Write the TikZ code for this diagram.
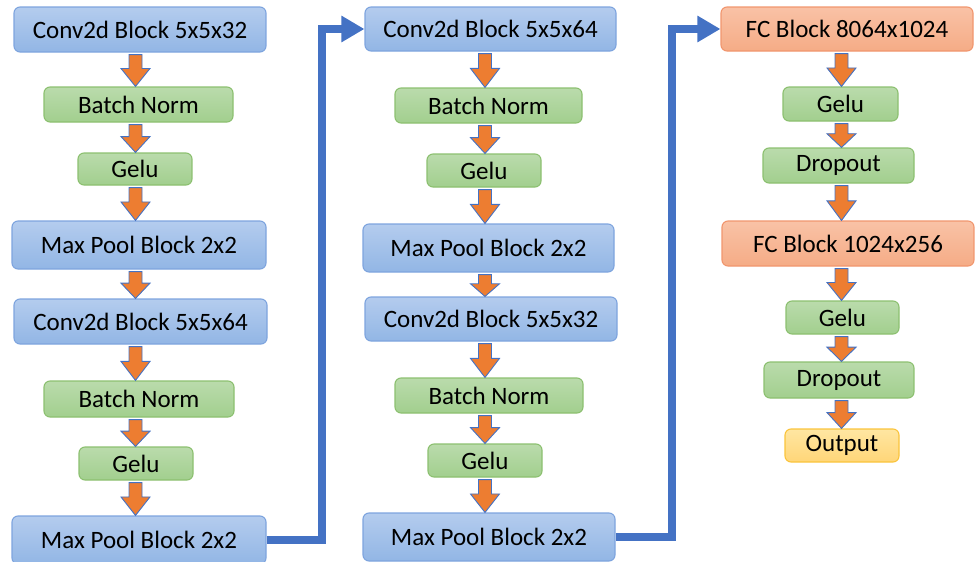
\documentclass[tikz,border=0pt]{standalone}
\usepackage{fontspec}
\setmainfont{Carlito}
\usetikzlibrary{arrows.meta,calc}
\definecolor{bluetop}{RGB}{180,204,238}
\definecolor{bluebot}{RGB}{146,182,229}
\definecolor{blueline}{RGB}{126,164,222}
\definecolor{greentop}{RGB}{186,219,172}
\definecolor{greenbot}{RGB}{162,207,142}
\definecolor{greenline}{RGB}{140,192,112}
\definecolor{fctop}{RGB}{249,194,166}
\definecolor{fcbot}{RGB}{245,172,134}
\definecolor{fcline}{RGB}{241,150,110}
\definecolor{outtop}{RGB}{255,230,162}
\definecolor{outbot}{RGB}{255,214,120}
\definecolor{outline}{RGB}{250,196,60}
\definecolor{arrfill}{RGB}{237,125,49}
\definecolor{arrline}{RGB}{68,114,196}
\definecolor{conn}{RGB}{68,114,196}
\newcommand{\barr}[3]{%
  \draw[oarrow] let \p1=(#2.south), \p2=(#3.north), \n1={\y1-0.47*(\y1-\y2)} in
   ({#1pt-6.5pt},{\y1-2pt}) -- ({#1pt+6.5pt},{\y1-2pt}) -- ({#1pt+6.5pt},\n1) -- ({#1pt+14.5pt},\n1)
   -- (#1pt,\y2) -- ({#1pt-14.5pt},\n1) -- ({#1pt-6.5pt},\n1) -- cycle;}
\begin{document}
\begin{tikzpicture}[x=1pt,y=-1pt,
  box/.style={rounded corners=6pt, line width=1.1pt, inner sep=0pt,
    font=\fontsize{25}{29}\selectfont, text=black},
  bluebox/.style={box, draw=blueline, top color=bluetop, bottom color=bluebot},
  greenbox/.style={box, draw=greenline, top color=greentop, bottom color=greenbot},
  fcbox/.style={box, draw=fcline, top color=fctop, bottom color=fcbot},
  outbox/.style={box, draw=outline, top color=outtop, bottom color=outbot},
  oarrow/.style={fill=arrfill, draw=arrline, line width=0.9pt, line join=miter},
  bconn/.style={draw=conn, line width=8pt, line join=miter,
    -{Triangle[length=23pt,width=25pt]}}]
\useasboundingbox (0,0) rectangle (975,562);
\clip (0,0) rectangle (975,562);
% column 1
\node[bluebox, minimum width=252pt, minimum height=45pt] (c1a) at (140,29.5) {Conv2d Block 5x5x32};
\node[greenbox, minimum width=189pt, minimum height=35pt] (c1b) at (138.5,104.5) {Batch Norm};
\node[greenbox, minimum width=114pt, minimum height=32pt] (c1c) at (135,169) {Gelu};
\node[bluebox, minimum width=254pt, minimum height=48pt] (c1d) at (139,245) {Max Pool Block 2x2};
\node[bluebox, minimum width=253pt, minimum height=45pt] (c1e) at (140.5,321.5) {Conv2d Block 5x5x64};
\node[greenbox, minimum width=190pt, minimum height=36pt] (c1f) at (139,399) {Batch Norm};
\node[greenbox, minimum width=114pt, minimum height=33pt] (c1g) at (136,463.5) {Gelu};
\node[bluebox, minimum width=254pt, minimum height=48pt] (c1h) at (139,540) {Max Pool Block 2x2};
% column 2
\node[bluebox, minimum width=251pt, minimum height=44pt] (c2a) at (490.5,29) {Conv2d Block 5x5x64};
\node[greenbox, minimum width=187pt, minimum height=35pt] (c2b) at (488.5,105.5) {Batch Norm};
\node[greenbox, minimum width=114pt, minimum height=33pt] (c2c) at (484,170.5) {Gelu};
\node[bluebox, minimum width=251pt, minimum height=48pt] (c2d) at (488.5,248) {Max Pool Block 2x2};
\node[bluebox, minimum width=252pt, minimum height=44pt] (c2e) at (491,319) {Conv2d Block 5x5x32};
\node[greenbox, minimum width=188pt, minimum height=35pt] (c2f) at (489,395.5) {Batch Norm};
\node[greenbox, minimum width=114pt, minimum height=33pt] (c2g) at (485,460.5) {Gelu};
\node[bluebox, minimum width=252pt, minimum height=48pt] (c2h) at (489,537) {Max Pool Block 2x2};
% column 3
\node[fcbox, minimum width=252pt, minimum height=44pt] (c3a) at (847,29) {FC Block 8064x1024};
\node[greenbox, minimum width=115pt, minimum height=34pt] (c3b) at (840.5,104) {Gelu};
\node[greenbox, minimum width=151pt, minimum height=35pt] (c3c) at (838.5,165.5) {Dropout};
\node[fcbox, minimum width=252pt, minimum height=45pt] (c3d) at (848,243.5) {FC Block 1024x256};
\node[greenbox, minimum width=113pt, minimum height=33pt] (c3e) at (842.5,317.5) {Gelu};
\node[greenbox, minimum width=150pt, minimum height=36pt] (c3f) at (839,380) {Dropout};
\node[outbox, minimum width=114pt, minimum height=33pt] (c3g) at (842,445.5) {Output};
% orange arrows
\barr{135.5}{c1a}{c1b}
\barr{135.5}{c1b}{c1c}
\barr{135.5}{c1c}{c1d}
\barr{135.5}{c1d}{c1e}
\barr{135.5}{c1e}{c1f}
\barr{135.5}{c1f}{c1g}
\barr{135.5}{c1g}{c1h}
\barr{485}{c2a}{c2b}
\barr{485}{c2b}{c2c}
\barr{485}{c2c}{c2d}
\barr{485}{c2d}{c2e}
\barr{485}{c2e}{c2f}
\barr{485}{c2f}{c2g}
\barr{485}{c2g}{c2h}
\barr{841.5}{c3a}{c3b}
\barr{841.5}{c3b}{c3c}
\barr{841.5}{c3c}{c3d}
\barr{841.5}{c3d}{c3e}
\barr{841.5}{c3e}{c3f}
\barr{841.5}{c3f}{c3g}
% blue connectors
\coordinate (k1) at (322,29);
\coordinate (k2) at (672,29);
\draw[bconn] (c1h.east) -| (k1) -- (c2a.west);
\draw[bconn] (c2h.east) -| (k2) -- (c3a.west);
\end{tikzpicture}
\end{document}
